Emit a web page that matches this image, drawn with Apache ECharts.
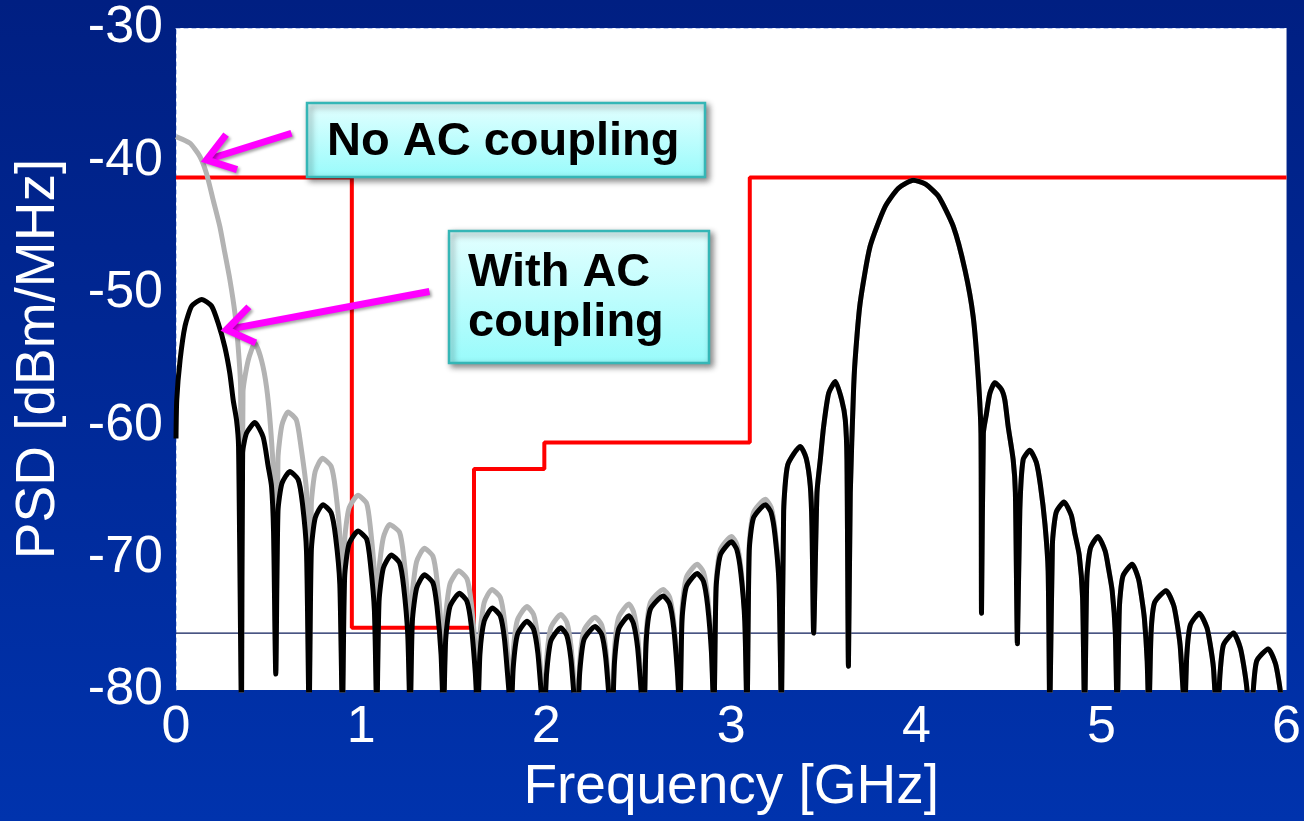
<!DOCTYPE html>
<html>
<head>
<meta charset="utf-8">
<title>PSD</title>
<script src="https://cdn.jsdelivr.net/npm/echarts@6/dist/echarts.min.js"></script>
<style>
  html, body { margin: 0; padding: 0; }
  #chart { width: 1304px; height: 821px; }
</style>
</head>
<body>
<div id="chart"></div>
<script>
// 频率 [GHz], PSD [dBm/MHz] — 读图所得
// With AC coupling (黑线)
const withAcPts = [
  [0, -61], [0.004, -58.1], [0.022, -55.1], [0.049, -52.5], [0.085, -51.0], [0.139, -50.5], [0.192, -51.0],
  [0.228, -52.3], [0.264, -54.1], [0.291, -56.1], [0.309, -58.1], [0.327, -59.6], [0.338, -61.6], [0.354, -82],
  [0.36, -62.1], [0.381, -60.6], [0.426, -59.8], [0.471, -60.9], [0.498, -63.1], [0.516, -64.6], [0.527, -68], [0.539, -78.8],
  [0.551, -66.5], [0.572, -64.4], [0.615, -63.5], [0.66, -64.1], [0.683, -65.9], [0.705, -69.5], [0.719, -82],
  [0.731, -69.5], [0.752, -67], [0.794, -66.0], [0.838, -66.6], [0.862, -68.4], [0.885, -72], [0.899, -82],
  [0.911, -71.5], [0.934, -69], [0.983, -68.0], [1.03, -68.6], [1.05, -70.4], [1.072, -74], [1.085, -82],
  [1.097, -73.3], [1.12, -70.8], [1.163, -69.8], [1.208, -70.4], [1.23, -72.2], [1.252, -75.8], [1.265, -82],
  [1.277, -74.8], [1.3, -72.3], [1.342, -71.3], [1.388, -71.9], [1.41, -73.7], [1.432, -77.3], [1.445, -82],
  [1.457, -76.2], [1.48, -73.7], [1.531, -72.7], [1.572, -73.3], [1.595, -75.1], [1.617, -78.7], [1.63, -82],
  [1.642, -77.3], [1.665, -74.8], [1.709, -73.8], [1.752, -74.4], [1.775, -76.2], [1.797, -79.8], [1.81, -82],
  [1.822, -78.3], [1.845, -75.8], [1.896, -74.8], [1.932, -75.4], [1.955, -77.2], [1.977, -80.8], [1.99, -82],
  [2.002, -78.8], [2.025, -76.3], [2.079, -75.3], [2.112, -75.9], [2.134, -77.7], [2.156, -81.3], [2.169, -82],
  [2.181, -78.7], [2.204, -76.2], [2.264, -75.2], [2.3, -75.8], [2.322, -77.6], [2.344, -81.2], [2.357, -82],
  [2.369, -77.9], [2.392, -75.4], [2.447, -74.4], [2.472, -75], [2.494, -76.8], [2.515, -80.4], [2.528, -82],
  [2.54, -76.4], [2.563, -73.9], [2.632, -72.9], [2.667, -73.5], [2.689, -75.3], [2.71, -78.9], [2.722, -82],
  [2.734, -74.7], [2.757, -72.2], [2.816, -71.2], [2.85, -71.8], [2.872, -73.6], [2.893, -77.2], [2.906, -82],
  [2.918, -72.3], [2.941, -69.8], [3.001, -68.8], [3.03, -69.4], [3.052, -71.2], [3.073, -74.8], [3.085, -82],
  [3.097, -69.5], [3.12, -67], [3.184, -66.0], [3.215, -66.6], [3.237, -68.4], [3.258, -72], [3.271, -82],
  [3.283, -66.5], [3.305, -63], [3.373, -61.6], [3.405, -62.5], [3.427, -64.6], [3.436, -67.6], [3.445, -75.7],
  [3.463, -65.1], [3.481, -62.6], [3.499, -60.1], [3.526, -57.6], [3.562, -56.7], [3.597, -58.1], [3.616, -59.6], [3.625, -62.6], [3.633, -78.2],
  [3.643, -65.1], [3.66, -57.6], [3.669, -55.1], [3.696, -50.8], [3.75, -46.5], [3.831, -43.5], [3.903, -42.1], [3.984, -41.5],
  [4.05, -41.8], [4.119, -42.7], [4.2, -45.0], [4.263, -48.3], [4.307, -51.8], [4.334, -56.3], [4.349, -60.6], [4.352, -74.2],
  [4.362, -60.6], [4.379, -59.1], [4.397, -57.6], [4.424, -56.8], [4.46, -57.3], [4.478, -58.1], [4.496, -60.1], [4.523, -62.6], [4.535, -65.1], [4.546, -76.5],
  [4.559, -66.4], [4.577, -62.6], [4.613, -61.9], [4.648, -62.8], [4.67, -64.5], [4.695, -67.5], [4.712, -71], [4.721, -82],
  [4.735, -69], [4.755, -66.6], [4.798, -65.8], [4.837, -66.8], [4.855, -68.1], [4.88, -69.8], [4.898, -73], [4.909, -82],
  [4.921, -71.6], [4.94, -69.3], [4.981, -68.4], [5.02, -69.5], [5.038, -70.8], [5.058, -72.5], [5.075, -75.7], [5.085, -82],
  [5.097, -73.7], [5.116, -71.4], [5.166, -70.5], [5.2, -71.6], [5.216, -72.9], [5.232, -74.6], [5.247, -77.8], [5.256, -82],
  [5.268, -75.7], [5.287, -73.4], [5.349, -72.5], [5.39, -73.6], [5.408, -74.9], [5.425, -76.6], [5.44, -79.8], [5.449, -82],
  [5.461, -77.4], [5.48, -75.1], [5.529, -74.2], [5.57, -75.3], [5.588, -76.6], [5.605, -78.3], [5.619, -81.5], [5.628, -82],
  [5.64, -78.9], [5.659, -76.6], [5.714, -75.7], [5.75, -76.8], [5.768, -78.1], [5.785, -79.8], [5.8, -83], [5.808, -84],
  [5.82, -80.1], [5.839, -77.8], [5.901, -76.9], [5.94, -78], [5.958, -79.3], [5.975, -81], [6, -84]
];

// No AC coupling (灰线) 低频段；3.27 GHz 以上与黑线重合
const noAcLowPts = [
  [0, -38.2], [0.075, -38.7], [0.129, -39.7], [0.165, -41.0], [0.201, -43.0], [0.237, -45.0], [0.264, -47.0],
  [0.291, -49.0], [0.318, -51.5], [0.336, -54.1], [0.349, -57.1], [0.354, -82],
  [0.362, -57.5], [0.39, -55.1], [0.426, -53.8], [0.462, -55.1], [0.489, -57.1], [0.51, -60], [0.527, -64], [0.539, -78.5],
  [0.551, -62.5], [0.572, -60], [0.605, -59.0], [0.65, -59.6], [0.673, -61.4], [0.705, -65], [0.719, -82],
  [0.731, -66], [0.752, -63.5], [0.791, -62.5], [0.838, -63.1], [0.862, -64.9], [0.885, -68.5], [0.899, -82],
  [0.911, -68.8], [0.934, -66.3], [0.983, -65.3], [1.03, -65.9], [1.05, -67.7], [1.072, -71.3], [1.085, -82],
  [1.097, -71], [1.12, -68.5], [1.154, -67.5], [1.208, -68.1], [1.23, -69.9], [1.252, -73.5], [1.265, -82],
  [1.277, -72.8], [1.3, -70.3], [1.342, -69.3], [1.388, -69.9], [1.41, -71.7], [1.432, -75.3], [1.445, -82],
  [1.457, -74.5], [1.48, -72], [1.527, -71.0], [1.572, -71.6], [1.595, -73.4], [1.617, -77], [1.63, -82],
  [1.642, -75.9], [1.665, -73.4], [1.707, -72.4], [1.752, -73], [1.775, -74.8], [1.797, -78.4], [1.81, -82],
  [1.822, -77.2], [1.845, -74.7], [1.896, -73.7], [1.932, -74.3], [1.955, -76.1], [1.977, -79.7], [1.99, -82],
  [2.002, -77.8], [2.025, -75.3], [2.079, -74.3], [2.112, -74.9], [2.134, -76.7], [2.156, -80.3], [2.169, -82],
  [2.181, -78], [2.204, -75.5], [2.264, -74.5], [2.3, -75.1], [2.322, -76.9], [2.344, -80.5], [2.357, -82],
  [2.369, -77], [2.392, -74.5], [2.447, -73.5], [2.472, -74.1], [2.494, -75.9], [2.515, -79.5], [2.528, -82],
  [2.54, -75.9], [2.563, -73.4], [2.632, -72.4], [2.667, -73], [2.689, -74.8], [2.71, -78.4], [2.722, -82],
  [2.734, -74], [2.757, -71.5], [2.816, -70.5], [2.85, -71.1], [2.872, -72.9], [2.893, -76.5], [2.906, -82],
  [2.918, -71.9], [2.941, -69.4], [3.001, -68.4], [3.03, -69], [3.052, -70.8], [3.073, -74.4], [3.085, -82],
  [3.097, -69.1], [3.12, -66.6], [3.184, -65.6], [3.215, -66.2], [3.237, -68], [3.258, -71.6]
];

// FCC 室内辐射模板 (红线)
const maskPts = [
  [0, -41.3], [0.95, -41.3], [0.95, -75.3], [1.61, -75.3], [1.61, -63.3],
  [1.99, -63.3], [1.99, -61.3], [3.1, -61.3], [3.1, -41.3], [6, -41.3]
];

// 细参考线
const refLevel = -75.7;

// 注释箭头 [尾, 尖]（数据坐标）
const arrowNoAc = [[0.624, -37.95], [0.165, -39.96]];
const arrowWithAc = [[1.369, -49.9], [0.273, -52.79]];

const noAcPts = noAcLowPts.concat(withAcPts.filter(p => p[0] >= 3.271));

const FONT = '"Liberation Sans", Arial, sans-serif';
const chart = echarts.init(document.getElementById("chart"));

const option = {
  animation: false,
  backgroundColor: {
    type: "linear", x: 0, y: 0, x2: 0, y2: 1,
    colorStops: [
      { offset: 0, color: "#001f82" },
      { offset: 1, color: "#0033ad" }
    ]
  },
  grid: {
    left: 176, top: 28, right: 15, bottom: 131,
    show: true, backgroundColor: "#ffffff", borderWidth: 0
  },
  xAxis: [
    {
      type: "value", min: 0, max: 6, interval: 1,
      axisLine: { show: false }, axisTick: { show: false }, splitLine: { show: false },
      axisLabel: { color: "#fff", fontSize: 52, fontFamily: FONT, margin: 12 },
      name: "Frequency [GHz]", nameLocation: "middle", nameGap: 70,
      nameTextStyle: { color: "#fff", fontSize: 55, fontFamily: FONT }
    },
    {
      type: "value", position: "top", min: 0, max: 6,
      axisLine: { show: true, lineStyle: { color: "#b9c8ee", type: [4, 4], width: 1 } },
      axisTick: { show: false }, axisLabel: { show: false }, splitLine: { show: false }
    }
  ],
  yAxis: [
    {
      type: "value", min: -80, max: -30, interval: 10,
      axisLine: { show: false }, axisTick: { show: false }, splitLine: { show: false },
      axisLabel: { color: "#fff", fontSize: 52, fontFamily: FONT, margin: 13 },
      name: "PSD [dBm/MHz]", nameLocation: "middle", nameRotate: 90, nameGap: 110,
      nameTextStyle: { color: "#fff", fontSize: 55, fontFamily: FONT }
    },
    {
      type: "value", position: "right", min: -80, max: -30,
      axisLine: { show: true, lineStyle: { color: "#b9c8ee", type: [4, 4], width: 1 } },
      axisTick: { show: false }, axisLabel: { show: false }, splitLine: { show: false }
    }
  ],
  series: [
    {
      name: "ref", type: "line", symbol: "none", silent: true,
      data: [[0, refLevel], [6, refLevel]],
      lineStyle: { color: "#0d1d5a", width: 1.2 }
    },
    {
      name: "mask", type: "line", symbol: "none",
      data: maskPts,
      lineStyle: { color: "#ff0000", width: 4 }
    },
    {
      name: "No AC coupling", type: "line", symbol: "none", smooth: 0.2,
      data: noAcPts,
      lineStyle: { color: "#b3b3b3", width: 5, join: "round" }
    },
    {
      name: "With AC coupling", type: "line", symbol: "none", smooth: 0.2,
      data: withAcPts,
      lineStyle: { color: "#000000", width: 5, join: "round" }
    }
  ]
};

chart.setOption(option);

// 注释：文字框 + 洋红箭头
const boxFill = {
  type: "linear", x: 0, y: 0, x2: 0, y2: 1,
  colorStops: [
    { offset: 0, color: "#e4ffff" },
    { offset: 1, color: "#98fbfb" }
  ]
};
const boxStyle = {
  fill: boxFill, stroke: "#35b6b6", lineWidth: 2.5,
  shadowBlur: 6, shadowColor: "rgba(0,0,0,0.45)", shadowOffsetX: 3, shadowOffsetY: 3
};
const labelFont = 'bold 47px "Liberation Sans", Arial, sans-serif';

const makeArrow = (pair) => {
  const tail = chart.convertToPixel({ gridIndex: 0 }, pair[0]);
  const tip = chart.convertToPixel({ gridIndex: 0 }, pair[1]);
  const dx = tail[0] - tip[0];
  const dy = tail[1] - tip[1];
  const len = Math.sqrt(dx * dx + dy * dy);
  const ux = dx / len;
  const uy = dy / len;
  const a = 35 * Math.PI / 180;
  const L = 32;
  const b1 = [tip[0] + L * (ux * Math.cos(a) - uy * Math.sin(a)), tip[1] + L * (ux * Math.sin(a) + uy * Math.cos(a))];
  const b2 = [tip[0] + L * (ux * Math.cos(-a) - uy * Math.sin(-a)), tip[1] + L * (ux * Math.sin(-a) + uy * Math.cos(-a))];
  const st = {
    stroke: "#ff00ff", lineWidth: 7, lineJoin: "miter",
    shadowBlur: 3, shadowColor: "rgba(0,0,0,0.35)", shadowOffsetX: 2, shadowOffsetY: 2
  };
  return [
    { type: "line", z: 100, shape: { x1: tail[0], y1: tail[1], x2: tip[0] + ux * 3, y2: tip[1] + uy * 3 }, style: st },
    { type: "polyline", z: 100, shape: { points: [b1, tip, b2] }, style: st }
  ];
};

chart.setOption({
  graphic: [
    { type: "rect", z: 90, shape: { x: 307, y: 103, width: 398, height: 74 }, style: boxStyle },
    { type: "text", z: 91, x: 327, y: 142, style: { text: "No AC coupling", font: labelFont, fill: "#000", verticalAlign: "middle" } },
    { type: "rect", z: 90, shape: { x: 449, y: 231, width: 260, height: 132 }, style: boxStyle },
    { type: "text", z: 91, x: 468, y: 273, style: { text: "With AC", font: labelFont, fill: "#000", verticalAlign: "middle" } },
    { type: "text", z: 91, x: 468, y: 323, style: { text: "coupling", font: labelFont, fill: "#000", verticalAlign: "middle" } },
    ...makeArrow(arrowNoAc),
    ...makeArrow(arrowWithAc)
  ]
});
</script>
</body>
</html>
